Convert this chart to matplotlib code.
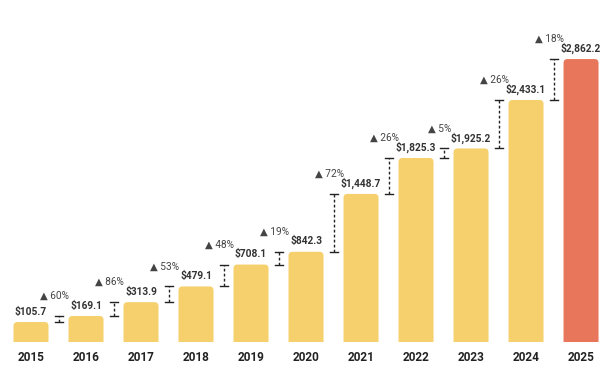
import matplotlib
matplotlib.use("Agg")
import matplotlib.pyplot as plt
from matplotlib.patches import FancyBboxPatch, Rectangle

years = ["2015", "2016", "2017", "2018", "2019", "2020", "2021", "2022", "2023", "2024", "2025"]
values = [105.7, 169.1, 313.9, 479.1, 708.1, 842.3, 1448.7, 1825.3, 1925.2, 2433.1, 2862.2]
growth = [60, 86, 53, 48, 19, 72, 26, 5, 26, 18]
value_labels = ["$105.7", "$169.1", "$313.9", "$479.1", "$708.1", "$842.3",
                "$1,448.7", "$1,825.3", "$1,925.2", "$2,433.1", "$2,862.2"]

YELLOW = "#F6D06C"
RED = "#E8765A"
FONT = ["Roboto", "DejaVu Sans"]
plt.rcParams["font.family"] = FONT

fig = plt.figure(figsize=(6, 3.72), dpi=100)
ax = fig.add_axes([0, 0, 1, 1])
ax.set_xlim(-0.5636, 10.345)
ax.set_ylim(-418, 3481)
ax.axis("off")

px_x = 55.0      # pixels per x unit
px_y = 0.0954    # pixels per y unit
base = -100.6
bw = 35 / px_x
r = 4 / px_x
aspect = (1 / px_y) / (1 / px_x)

clip = Rectangle((-1, base), 13, 5000, transform=ax.transData)
for i, v in enumerate(values):
    color = RED if i == len(values) - 1 else YELLOW
    p = FancyBboxPatch((i - bw / 2, base - 200), bw, v - base + 200,
                       boxstyle=f"round,pad=0,rounding_size={r}",
                       mutation_aspect=aspect, fc=color, ec="none")
    ax.add_patch(p)
    p.set_clip_path(clip)
    ax.annotate(value_labels[i], (i, v), xytext=(0, 7.5), textcoords="offset points",
                ha="center", va="center", fontsize=7.3, fontweight="bold", color="#333333")
    ax.text(i, -271, years[i], ha="center", va="center", fontsize=8.5,
            fontweight="bold", color="#222222")

cap = 4 / px_x
for i, g in enumerate(growth):
    x = i + 0.5
    y0, y1 = values[i], values[i + 1]
    ax.plot([x, x], [y0, y1], color="#222222", lw=1, ls=(0, (2, 1.6)))
    ax.plot([x - cap, x + cap], [y0, y0], color="#222222", lw=1)
    ax.plot([x - cap, x + cap], [y1, y1], color="#222222", lw=1)
    ax.annotate(f"▲ {g}%", (x, y1), xytext=(-3, 14.5), textcoords="offset points",
                ha="center", va="center", fontsize=7.3, color="#444444", family=FONT)

fig.savefig("out.png", dpi=100)
